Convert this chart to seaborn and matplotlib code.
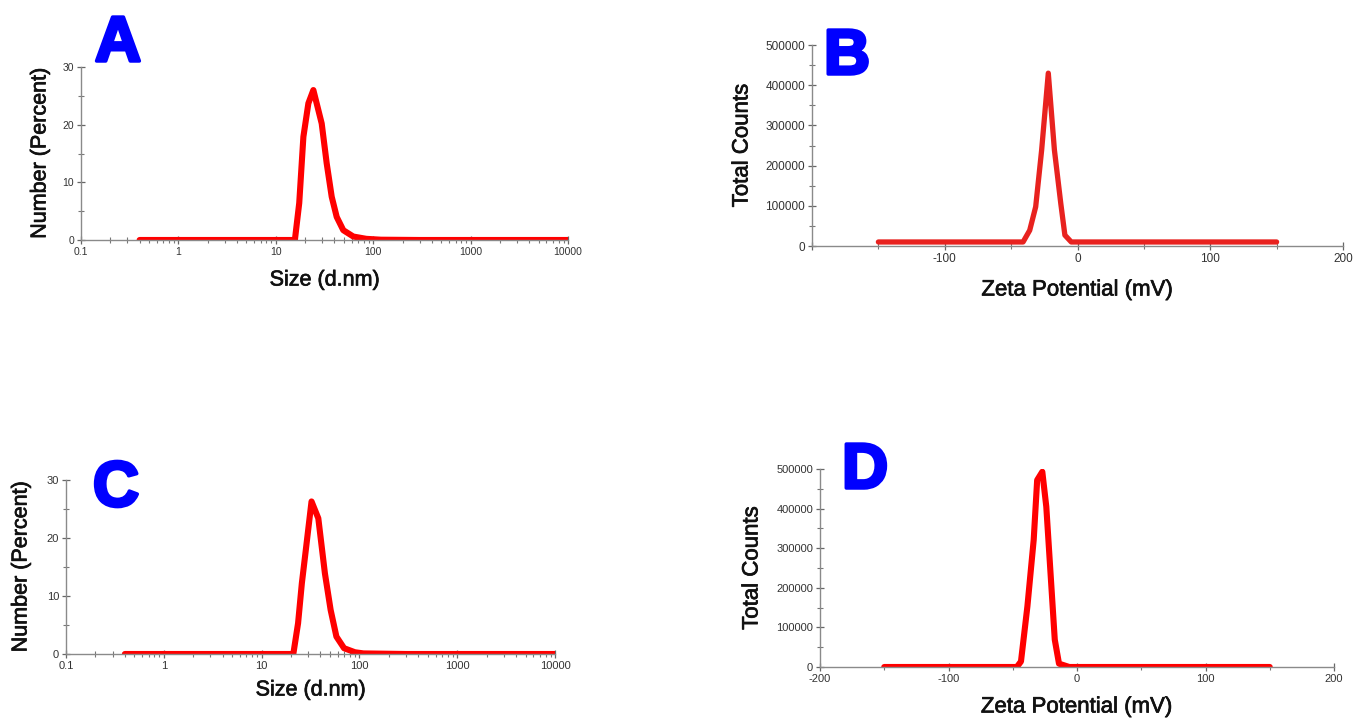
import numpy as np
import pandas as pd
import matplotlib
matplotlib.use("Agg")
import matplotlib.pyplot as plt
import matplotlib.patheffects as pe
import seaborn as sns
from matplotlib.ticker import LogLocator, NullFormatter, MultipleLocator, FixedLocator, FixedFormatter

sns.set_style("white")
plt.rcParams['font.family'] = ['Liberation Sans', 'DejaVu Sans']

# ---- Data ----
size_a = [0.4, 1, 5, 15.7, 17.4, 19.2, 21.6, 24.3, 29.6, 33.3, 37.5, 42.2, 49.3, 62.5, 85, 120, 300, 1000, 3000, 10000]
num_a = [0, 0, 0, 0, 6.4, 17.9, 23.7, 26.0, 20.2, 13.3, 7.5, 4.0, 1.7, 0.6, 0.2, 0.05, 0, 0, 0, 0]

zeta_b = [-150, -100, -50, -41, -36, -31.5, -27, -22, -17.4, -12.6, -9.5, -4.7, 0, 50, 100, 150]
counts_b = [10000, 10000, 10000, 10000, 39000, 97500, 239000, 430000, 239000, 106000, 27000, 10000, 10000, 10000, 10000, 10000]

size_c = [0.4, 1, 5, 21.1, 23.6, 25.8, 28.3, 32.4, 38.0, 44.4, 50.8, 58.2, 69.7, 90, 110, 300, 1000, 10000]
num_c = [0, 0, 0, 0, 5.3, 12.2, 17.9, 26.3, 23.4, 13.9, 7.6, 3.0, 1.0, 0.3, 0.1, 0, 0, 0]

zeta_d = [-150, -100, -50, -46.8, -43.6, -38.6, -33.7, -31, -27, -23.9, -20.6, -17.3, -14, -6, 0, 50, 100, 150]
counts_d = [0, 0, 0, 0, 14000, 153000, 321000, 472000, 493000, 405000, 237000, 69000, 8400, 0, 0, 0, 0, 0]

size_ticks = [0.1, 1, 10, 100, 1000, 10000]
size_ticklabels = ["0.1", "1", "10", "100", "1000", "10000"]
pct_ticks = [0, 10, 20, 30]
count_ticks = [0, 100000, 200000, 300000, 400000, 500000]
zeta_ticks = [-200, -100, 0, 100, 200]
zeta_labels_b = ["", "-100", "0", "100", "200"]
zeta_labels_d = ["-200", "-100", "0", "100", "200"]

W, H = 1357, 721
fig = plt.figure(figsize=(W / 100, H / 100), dpi=100)

def px_axes(left, top, right, bottom):
    return fig.add_axes([left / W, 1 - bottom / H, (right - left) / W, (bottom - top) / H])

axA = px_axes(81, 67, 568, 240)
axB = px_axes(812, 45, 1343, 246)
axC = px_axes(66, 480, 555, 654)
axD = px_axes(820, 469, 1334, 667)

spine_col = "#8a8a8a"
tick_col = "#333333"

def style(ax, tick_fs):
    for s in ["top", "right"]:
        ax.spines[s].set_visible(False)
    for s in ["left", "bottom"]:
        ax.spines[s].set_color(spine_col)
        ax.spines[s].set_linewidth(1.0)
    ax.tick_params(which="both", bottom=True, left=True, top=False, right=False)
    ax.tick_params(which="major", direction="inout", length=6, width=0.9, color="#666666",
                   labelsize=tick_fs, labelcolor=tick_col, pad=2)
    ax.tick_params(which="minor", direction="inout", length=4, width=0.8, color="#777777")
    ax.grid(False)
    ax.set_facecolor("white")

line_kw = dict(solid_capstyle="round", solid_joinstyle="round")

# ---- Panel A ----
dfA = pd.DataFrame({"size": size_a, "num": num_a})
sns.lineplot(data=dfA, x="size", y="num", ax=axA, color="#ff0000", linewidth=4.4, sort=False, **line_kw)
axA.set_xscale("log")
axA.set_xlim(0.1, 10000)
axA.set_ylim(0, 30)
axA.xaxis.set_major_locator(FixedLocator(size_ticks))
axA.xaxis.set_major_formatter(FixedFormatter(size_ticklabels))
axA.xaxis.set_minor_locator(LogLocator(base=10, subs=np.arange(2, 10)))
axA.xaxis.set_minor_formatter(NullFormatter())
axA.yaxis.set_major_locator(FixedLocator(pct_ticks))
axA.yaxis.set_minor_locator(MultipleLocator(5))
style(axA, 7.5)

# ---- Panel C ----
dfC = pd.DataFrame({"size": size_c, "num": num_c})
sns.lineplot(data=dfC, x="size", y="num", ax=axC, color="#ff0000", linewidth=4.4, sort=False, **line_kw)
axC.set_xscale("log")
axC.set_xlim(0.1, 10000)
axC.set_ylim(0, 30)
axC.xaxis.set_major_locator(FixedLocator(size_ticks))
axC.xaxis.set_major_formatter(FixedFormatter(size_ticklabels))
axC.xaxis.set_minor_locator(LogLocator(base=10, subs=np.arange(2, 10)))
axC.xaxis.set_minor_formatter(NullFormatter())
axC.yaxis.set_major_locator(FixedLocator(pct_ticks))
axC.yaxis.set_minor_locator(MultipleLocator(5))
style(axC, 8)

# ---- Panel B ----
dfB = pd.DataFrame({"zeta": zeta_b, "counts": counts_b})
sns.lineplot(data=dfB, x="zeta", y="counts", ax=axB, color="#e8221f", linewidth=3.8, sort=False, **line_kw)
axB.set_xlim(-200, 200)
axB.set_ylim(0, 500000)
axB.xaxis.set_major_locator(FixedLocator(zeta_ticks))
axB.xaxis.set_major_formatter(FixedFormatter(zeta_labels_b))
axB.xaxis.set_minor_locator(MultipleLocator(50))
axB.yaxis.set_major_locator(FixedLocator(count_ticks))
axB.yaxis.set_major_formatter(FixedFormatter([str(v) for v in count_ticks]))
axB.yaxis.set_minor_locator(MultipleLocator(50000))
style(axB, 8.5)

# ---- Panel D ----
dfD = pd.DataFrame({"zeta": zeta_d, "counts": counts_d})
sns.lineplot(data=dfD, x="zeta", y="counts", ax=axD, color="#ff0000", linewidth=4.4, sort=False, **line_kw)
axD.set_xlim(-200, 200)
axD.set_ylim(0, 500000)
axD.xaxis.set_major_locator(FixedLocator(zeta_ticks))
axD.xaxis.set_major_formatter(FixedFormatter(zeta_labels_d))
axD.xaxis.set_minor_locator(MultipleLocator(50))
axD.yaxis.set_major_locator(FixedLocator(count_ticks))
axD.yaxis.set_major_formatter(FixedFormatter([str(v) for v in count_ticks]))
axD.yaxis.set_minor_locator(MultipleLocator(50000))
style(axD, 8)

# ---- Axis labels (placed by pixel) ----
def set_labels(ax, xl, yl, ax_box, xlab_y, ylab_x, fs):
    left, top, right, bottom = ax_box
    w, h = right - left, bottom - top
    ax.set_xlabel(xl, fontsize=fs, color="#111111")
    ax.set_ylabel(yl, fontsize=fs, color="#111111")
    ax.xaxis.set_label_coords(0.5, -(xlab_y - bottom) / h)
    ax.xaxis.label.set_va("center")
    ax.yaxis.set_label_coords(-(left - ylab_x) / w, 0.5)
    ax.yaxis.label.set_va("center")
    for t in (ax.xaxis.label, ax.yaxis.label):
        t.set_path_effects([pe.withStroke(linewidth=0.5, foreground="#111111")])

set_labels(axA, "Size (d.nm)", "Number (Percent)", (81, 67, 568, 240), 280, 40, 15.5)
set_labels(axB, "Zeta Potential (mV)", "Total Counts", (812, 45, 1343, 246), 290, 742, 16)
set_labels(axC, "Size (d.nm)", "Number (Percent)", (66, 480, 555, 654), 690, 21, 15.5)
set_labels(axD, "Zeta Potential (mV)", "Total Counts", (820, 469, 1334, 667), 707, 752, 16)

# ---- Panel letters ----
def letter(ch, cx, cy):
    fig.text(cx / W, 1 - cy / H, ch, fontsize=46, fontweight="bold", color="#0000ff",
             ha="center", va="center",
             path_effects=[pe.withStroke(linewidth=2.5, foreground="#0000ff")])

letter("A", 118, 44)
letter("B", 847, 57)
letter("C", 116, 489)
letter("D", 865, 471)

fig.savefig("out.png", dpi=100, facecolor="white")
